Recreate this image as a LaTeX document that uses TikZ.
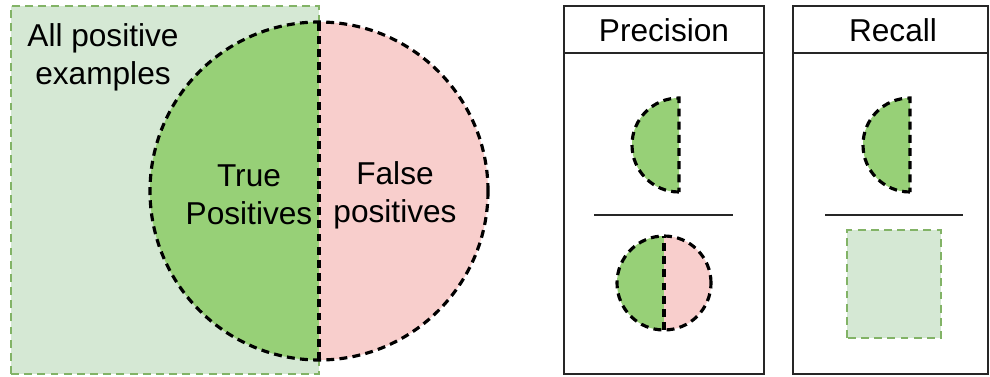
\documentclass[tikz,border=0pt]{standalone}
\usepackage{fontspec}
\setmainfont{Liberation Sans}
\usetikzlibrary{positioning}
\definecolor{allpos}{HTML}{D5E8D4}
\definecolor{allposline}{HTML}{82B366}
\definecolor{truepos}{HTML}{97D077}
\definecolor{falsepos}{HTML}{F8CECC}
\tikzset{
  cutline/.style={draw=black,line width=1.8pt,dash pattern=on 4.5pt off 3pt},
  allline/.style={draw=allposline,line width=1.3pt,dash pattern=on 4.5pt off 3pt},
  frame/.style={draw=black!85,line width=1.5pt},
  lbl/.style={font=\fontsize{18}{21.6}\selectfont,align=center,inner sep=0pt},
}

\begin{document}
\begin{tikzpicture}[x=0.02cm,y=0.02cm]
  \useasboundingbox (0,0) rectangle (990,376);
  % all positive examples
  \fill[allpos] (11,2) rectangle (319,370);
  \draw[allline] (11,2) rectangle (319,370);
  % true / false positives
  \fill[truepos] (319,16) arc (-90:-270:169) -- cycle;
  \fill[falsepos] (319,16) arc (-90:90:169) -- cycle;
  \draw[cutline] (319,185) circle (169);
  \draw[cutline] (319,16) -- (319,354);
  \node[lbl] (allpos) at (103,319) {All positive\\examples};
  \node[lbl] (tp) at (249,181) {True\\Positives};
  \node[lbl] (fp) at (395,181) {False\\positives};
  % precision
  \draw[frame] (564,2) rectangle (764,370);
  \draw[frame] (564,323) -- (764,323);
  \node[lbl] (prec) at (664,346) {Precision};
  \draw[cutline,fill=truepos] (679,184) arc (-90:-270:47) -- cycle;
  \draw[frame] (594,161) -- (733,161);
  \fill[truepos] (664,46) arc (-90:-270:47) -- cycle;
  \fill[falsepos] (664,46) arc (-90:90:47) -- cycle;
  \draw[cutline] (664,93) circle (47);
  \draw[cutline] (664,46) -- (664,140);
  % recall
  \draw[frame] (793,2) rectangle (988,370);
  \draw[frame] (793,323) -- (988,323);
  \node[lbl] (rec) at (893,346) {Recall};
  \draw[cutline,fill=truepos] (910,184) arc (-90:-270:47) -- cycle;
  \draw[frame] (825,161) -- (963,161);
  \draw[allline,fill=allpos] (847,38) rectangle (941,146);
\end{tikzpicture}
\end{document}
